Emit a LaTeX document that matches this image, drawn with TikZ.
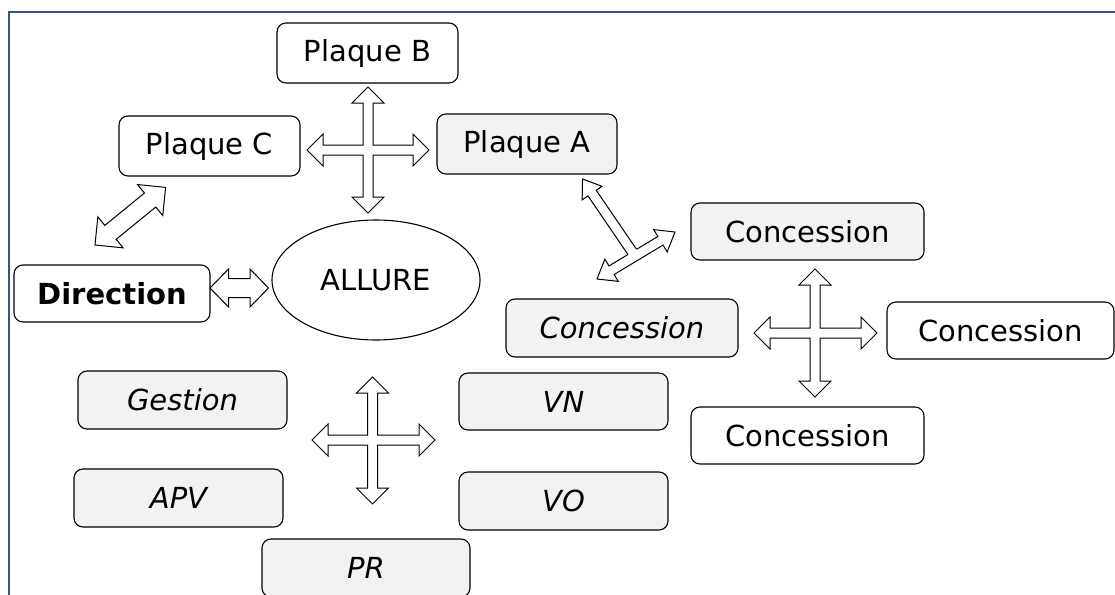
\documentclass[tikz,border=0pt]{standalone}
\usepackage{fontspec}
\setmainfont{DejaVu Sans}
\usetikzlibrary{calc,shapes.geometric}
\definecolor{frameblue}{RGB}{47,84,150}
\definecolor{boxgray}{RGB}{242,242,242}
\tikzset{
  box/.style={draw=black, line width=1.1pt, rounded corners=9pt, fill=white,
    inner sep=0pt, font=\fontsize{29}{34}\selectfont},
  graybox/.style={box, fill=boxgray},
  ital/.style={font=\fontsize{29}{34}\selectfont\itshape},
  blk/.style={draw=black, fill=white, line width=1pt, line join=miter},
  framestyle/.style={draw=frameblue, line width=2.5pt},
  ellipsestyle/.style={draw=black, line width=1.1pt, ellipse, fill=white,
    inner sep=0pt, font=\fontsize{29}{34}\selectfont},
}
% box placed by its corners: name, style, x1, y1, x2, y2, text
\newcommand\placebox[7]{%
  \node[#2, minimum width={(#5-#3)*1pt}, minimum height={(#6-#4)*1pt}]
    (#1) at ({(#3+#5)/2},{(#4+#6)/2}) {#7};}
% double block arrow between two coordinates: shaft half width, head half width, head length
\newcommand\blockarrow[5]{%
  \path (#1); \pgfgetlastxy{\baXa}{\baYa}
  \path (#2); \pgfgetlastxy{\baXb}{\baYb}
  \pgfmathsetmacro\baAng{atan2(\baYb-\baYa,\baXb-\baXa)}
  \pgfmathsetmacro\baLen{veclen(\baXb-\baXa,\baYb-\baYa)}
  \pgfmathsetmacro\baS{\baLen-#5}
  \draw[blk, shift={(\baXa,\baYa)}, rotate=\baAng]
    (0pt,0pt) -- (#5pt,#4pt) -- (#5pt,#3pt) -- (\baS pt,#3pt) -- (\baS pt,#4pt)
    -- (\baLen pt,0pt) -- (\baS pt,-#4pt) -- (\baS pt,-#3pt) -- (#5pt,-#3pt)
    -- (#5pt,-#4pt) -- cycle;}
% single headed stem from a junction to a tip, open at the junction
\newcommand\stemarrow[6]{%
  \path (#1); \pgfgetlastxy{\baXa}{\baYa}
  \path (#2); \pgfgetlastxy{\baXb}{\baYb}
  \pgfmathsetmacro\baAng{atan2(\baYb-\baYa,\baXb-\baXa)}
  \pgfmathsetmacro\baLen{veclen(\baXb-\baXa,\baYb-\baYa)}
  \pgfmathsetmacro\baS{\baLen-#5}
  \fill[white, shift={(\baXa,\baYa)}, rotate=\baAng]
    (0pt,-#3pt) rectangle (\baS pt,#3pt);
  \draw[blk, fill=none, shift={(\baXa,\baYa)}, rotate=\baAng]
    (#6pt,#3pt) -- (\baS pt,#3pt) -- (\baS pt,#4pt) -- (\baLen pt,0pt)
    -- (\baS pt,-#4pt) -- (\baS pt,-#3pt) -- (#6pt,-#3pt);}
% four-way arrow: centre, up, down, left, right, shaft half width, head half width, head length
\newcommand\crossarrow[8]{%
  \pgfmathsetmacro\caU{#2-#8}\pgfmathsetmacro\caD{#3-#8}%
  \pgfmathsetmacro\caL{#4-#8}\pgfmathsetmacro\caR{#5-#8}%
  \draw[blk, shift={(#1)}]
    (#6pt,#6pt) -- (#6pt,\caU pt) -- (#7pt,\caU pt) -- (0pt,#2pt) -- (-#7pt,\caU pt)
    -- (-#6pt,\caU pt) -- (-#6pt,#6pt) -- (-\caL pt,#6pt) -- (-\caL pt,#7pt)
    -- (-#4pt,0pt) -- (-\caL pt,-#7pt) -- (-\caL pt,-#6pt) -- (-#6pt,-#6pt)
    -- (-#6pt,-\caD pt) -- (-#7pt,-\caD pt) -- (0pt,-#3pt) -- (#7pt,-\caD pt)
    -- (#6pt,-\caD pt) -- (#6pt,-#6pt) -- (\caR pt,-#6pt) -- (\caR pt,-#7pt)
    -- (#5pt,0pt) -- (\caR pt,#7pt) -- (\caR pt,#6pt) -- cycle;}
\begin{document}
\begin{tikzpicture}[x=1pt, y=-1pt]
\useasboundingbox (0,0) rectangle (1115,594);
\clip (0,0) rectangle (1115,594);
% frame
\draw[framestyle] (9,600) -- (9,12) -- (1120,12);
% boxes
\placebox{pb}{box}{277}{23}{458}{83}{Plaque B}
\placebox{pc}{box}{119}{116}{300}{176}{Plaque C}
\placebox{pa}{graybox}{437}{114}{617}{174}{Plaque A}
\placebox{dir}{box}{14}{265}{210}{322}{\bfseries Direction}
\placebox{c1}{graybox}{691}{203}{924}{260}{Concession}
\placebox{c2}{graybox, ital}{506}{299}{738}{357}{Concession}
\placebox{c3}{box}{887}{302}{1114}{359}{Concession}
\placebox{c4}{box}{691}{407}{924}{464}{Concession}
\placebox{ges}{graybox, ital}{78}{371}{287}{429}{Gestion}
\placebox{vn}{graybox, ital}{459}{373}{668}{430}{VN}
\placebox{apv}{graybox, ital}{74}{469}{283}{527}{APV}
\placebox{vo}{graybox, ital}{459}{472}{668}{530}{VO}
\placebox{pr}{graybox, ital}{262}{539}{470}{597}{PR}
\node[ellipsestyle, minimum width=208pt, minimum height=120pt] (allure) at (376,280) {ALLURE};
% arrow anchor coordinates
\coordinate (crossA) at (368,150);
\coordinate (crossB) at (815,333);
\coordinate (crossC) at (372.5,440);
\coordinate (cdA) at (95,245);
\coordinate (cdB) at (165.7,187.3);
\coordinate (daA) at (210,288);
\coordinate (daB) at (268.5,288);
\coordinate (tA) at (597,279);
\coordinate (tB) at (675,232);
\coordinate (tJ) at (635,256);
\coordinate (tT) at (582.5,179);
% arrows
\crossarrow{crossA}{63}{63}{61}{61}{5}{16}{16}
\crossarrow{crossB}{64}{64}{61}{62}{5}{16}{16}
\crossarrow{crossC}{63}{64}{60.5}{62.5}{5}{16}{16}
\blockarrow{cdA}{cdB}{9}{20}{20}
\blockarrow{daA}{daB}{9.5}{19}{18.5}
\blockarrow{tA}{tB}{5}{13}{17}
\stemarrow{tJ}{tT}{5}{12}{17}{5}
\end{tikzpicture}
\end{document}
